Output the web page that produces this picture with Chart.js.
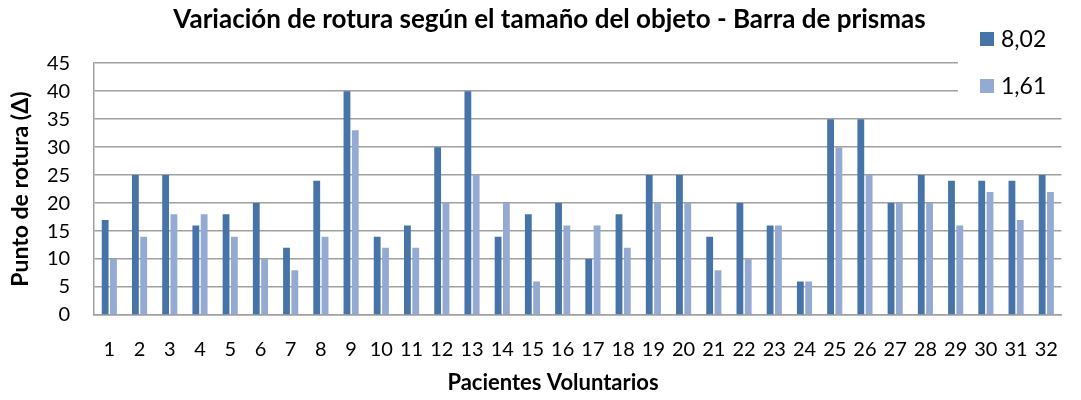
<!DOCTYPE html>
<html>
<head>
<meta charset="utf-8">
<script src="https://cdn.jsdelivr.net/npm/chart.js@4/dist/chart.umd.min.js"></script>
<style>
  html, body { margin: 0; padding: 0; background: #fff; }
  #wrap { position: relative; width: 1081px; height: 400px; }
</style>
</head>
<body>
<div id="wrap"><canvas id="chart" width="1081" height="400"></canvas></div>
<script>
const pacientes = ['1','2','3','4','5','6','7','8','9','10','11','12','13','14','15','16',
                   '17','18','19','20','21','22','23','24','25','26','27','28','29','30','31','32'];
const serieGrande = [17, 25, 25, 16, 18, 20, 12, 24, 40, 14, 16, 30, 40, 14, 18, 20,
                     10, 18, 25, 25, 14, 20, 16, 6, 35, 35, 20, 25, 24, 24, 24, 25];
const seriePequena = [10, 14, 18, 18, 14, 10, 8, 14, 33, 12, 12, 20, 25, 20, 6, 16,
                      16, 12, 20, 20, 8, 10, 16, 6, 30, 25, 20, 20, 16, 22, 17, 22];
const etiquetas = ['8,02', '1,61'];
const colores = ['#4674A9', '#95AAD3'];
const tituloX = 'Pacientes Voluntarios';
const tituloY = 'Punto de rotura (Δ)';

const FONT = 'Lato, "Open Sans", sans-serif';

// leyenda tipo Excel (caja blanca sobre la rejilla) y títulos de los ejes
const extras = {
    id: 'extras',
    afterDraw(chart) {
        const c = chart.ctx;
        const area = chart.chartArea;
        c.save();
        c.fillStyle = '#fff';
        c.fillRect(958, 24, 112, 78);
        chart.data.datasets.forEach((ds, i) => {
            const y = 32 + i * 47;
            c.fillStyle = ds.backgroundColor;
            c.fillRect(980, y, 14, 14);
            c.fillStyle = '#000';
            c.font = '23px ' + FONT;
            c.textBaseline = 'middle';
            c.textAlign = 'left';
            c.fillText(ds.label, 1001, y + 8);
        });
        c.fillStyle = '#000';
        c.textAlign = 'center';
        c.textBaseline = 'middle';
        c.font = 'bold 22px ' + FONT;
        c.fillText(tituloX, 553, 383);

        c.translate(21, (area.top + area.bottom) / 2);
        c.rotate(-Math.PI / 2);
        c.font = 'bold 23px ' + FONT;
        c.fillText(tituloY, 0, 0);
        c.restore();
    }
};

new Chart(document.getElementById('chart'), {
    type: 'bar',
    data: {
        labels: pacientes,
        datasets: [
            { label: etiquetas[0], data: serieGrande, backgroundColor: colores[0] },
            { label: etiquetas[1], data: seriePequena, backgroundColor: colores[1] }
        ]
    },
    options: {
        responsive: false,
        animation: false,
        layout: { padding: { left: 23, right: 5, top: 3, bottom: 15 } },
        datasets: { bar: { barPercentage: 0.82, categoryPercentage: 0.55 } },
        plugins: {
            legend: { display: false },
            tooltip: { enabled: false },
            title: {
                display: true,
                text: 'Variación de rotura según el tamaño del objeto - Barra de prismas',
                color: '#000',
                font: { family: FONT, size: 26, weight: 'bold' },
                padding: { top: 1, bottom: 28 }
            }
        },
        scales: {
            x: {
                grid: { display: false, drawTicks: false },
                border: { color: '#A0A0A0', width: 1.5 },
                ticks: { color: '#000', font: { family: FONT, size: 20 }, padding: 23, maxRotation: 0, autoSkip: false }
            },
            y: {
                min: 0,
                max: 45,
                ticks: { stepSize: 5, autoSkip: false, color: '#000', font: { family: FONT, size: 20 }, padding: 24 },
                grid: { color: '#A0A0A0', lineWidth: 1.5, drawTicks: false },
                border: { color: '#A0A0A0', width: 1.5 }
            }
        }
    },
    plugins: [extras]
});
</script>
</body>
</html>
